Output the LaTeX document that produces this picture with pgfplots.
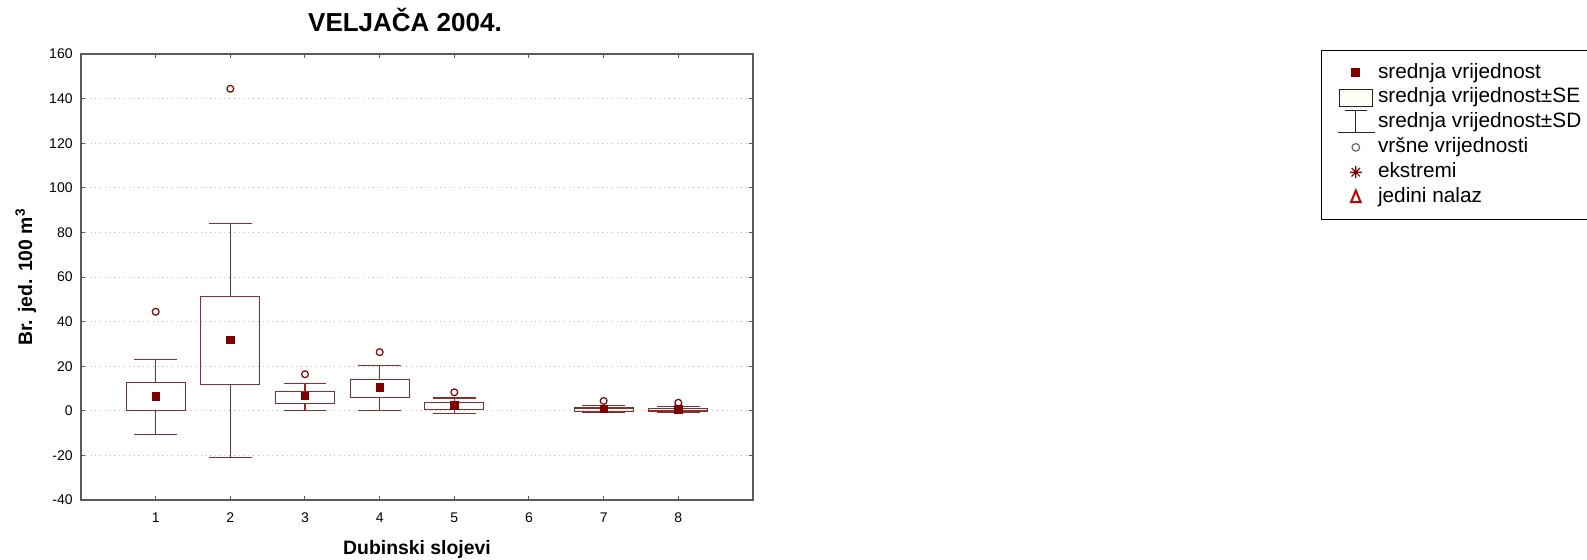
\documentclass[border=0pt]{standalone}
\usepackage{fontspec}
\setmainfont{Liberation Sans}
\usepackage{pgfplots}
\pgfplotsset{compat=1.18}
\usepgfplotslibrary{statistics}
\definecolor{meanred}{RGB}{128,0,0}
\definecolor{boxred}{RGB}{140,45,45}
\definecolor{framegray}{RGB}{90,90,90}
\definecolor{gridgray}{RGB}{190,190,190}
\begin{document}
\begin{tikzpicture}
\begin{axis}[
  at={(0,0)}, anchor=south west,
  scale only axis, width=336bp, height=223bp,
  xmin=0, xmax=9, ymin=-40, ymax=160,
  xtick={1,2,3,4,5,6,7,8},
  ytick={-40,-20,0,20,40,60,80,100,120,140,160},
  tick align=inside, major tick length=2bp,
  tick style={framegray, line width=0.5bp},
  axis line style={framegray, line width=0.8bp},
  ymajorgrids, grid style={gridgray, dotted, line width=0.5bp},
  /pgf/number format/assume math mode=true,
  tick label style={font=\fontsize{7bp}{8bp}\selectfont},
  yticklabel style={anchor=east, inner sep=0pt, xshift=-4bp},
  xticklabel style={anchor=north, inner sep=0pt, yshift=-6bp},
  title={VELJAČA 2004.},
  title style={font=\fontsize{13bp}{15bp}\selectfont\bfseries, at={(0.5,1)}, anchor=base, yshift=5.2bp, xshift=-6bp},
  xlabel={Dubinski slojevi},
  xlabel style={font=\fontsize{9.7bp}{11bp}\selectfont\bfseries, at={(0.5,0)}, anchor=base, yshift=-27bp},
  ylabel={Br. jed. 100 m\textsuperscript{3}},
  ylabel style={font=\fontsize{9.7bp}{11bp}\selectfont\bfseries, at={(-0.0729,0.5)}, anchor=base},
  boxplot/draw direction=y,
  boxplot/draw/median/.code={},
  legend cell align=left,
  legend style={at={(1.845,1.009)}, anchor=north west, draw=black, line width=0.5bp,
    font=\fontsize{10.4bp}{12.2bp}\selectfont,
    nodes={text height=7.5bp, text depth=2.2bp, inner sep=1.35bp},
    inner xsep=8bp, inner ysep=5bp},
]
\addplot[boxred, line width=0.6bp, mark=o, mark options={draw=meanred, fill=white}, mark size=1.7bp, forget plot,
  boxplot prepared={draw position=1, lower whisker=-10.6, lower quartile=0, median=6.4, upper quartile=12.6, upper whisker=23.0, box extend=0.79, whisker extend=0.57}]
  table[row sep=\\, y index=0] {44.4\\};
\addplot[boxred, line width=0.6bp, mark=o, mark options={draw=meanred, fill=white}, mark size=1.7bp, forget plot,
  boxplot prepared={draw position=2, lower whisker=-20.9, lower quartile=11.8, median=31.7, upper quartile=51.4, upper whisker=84.0, box extend=0.79, whisker extend=0.57}]
  table[row sep=\\, y index=0] {144.4\\};
\addplot[boxred, line width=0.6bp, mark=o, mark options={draw=meanred, fill=white}, mark size=1.7bp, forget plot,
  boxplot prepared={draw position=3, lower whisker=0, lower quartile=3.4, median=6.6, upper quartile=8.5, upper whisker=12.1, box extend=0.79, whisker extend=0.57}]
  table[row sep=\\, y index=0] {16.4\\};
\addplot[boxred, line width=0.6bp, mark=o, mark options={draw=meanred, fill=white}, mark size=1.7bp, forget plot,
  boxplot prepared={draw position=4, lower whisker=0, lower quartile=6.1, median=10.5, upper quartile=13.9, upper whisker=20.2, box extend=0.79, whisker extend=0.57}]
  table[row sep=\\, y index=0] {26.3\\};
\addplot[boxred, line width=0.6bp, mark=o, mark options={draw=meanred, fill=white}, mark size=1.7bp, forget plot,
  boxplot prepared={draw position=5, lower whisker=-1.3, lower quartile=0.6, median=2.5, upper quartile=3.6, upper whisker=5.7, box extend=0.79, whisker extend=0.57}]
  table[row sep=\\, y index=0] {8.3\\};
\addplot[boxred, line width=0.6bp, mark=o, mark options={draw=meanred, fill=white}, mark size=1.7bp, forget plot,
  boxplot prepared={draw position=7, lower whisker=-0.9, lower quartile=-0.3, median=0.9, upper quartile=1.3, upper whisker=2.2, box extend=0.79, whisker extend=0.57}]
  table[row sep=\\, y index=0] {4.4\\};
\addplot[boxred, line width=0.6bp, mark=o, mark options={draw=meanred, fill=white}, mark size=1.7bp, forget plot,
  boxplot prepared={draw position=8, lower whisker=-0.6, lower quartile=-0.1, median=0.6, upper quartile=1.0, upper whisker=1.8, box extend=0.79, whisker extend=0.57}]
  table[row sep=\\, y index=0] {3.6\\};
% means
\addplot[only marks, mark=square*, mark options={fill=meanred, draw=meanred}, mark size=1.85bp, forget plot]
  coordinates {(1,6.4) (2,31.7) (3,6.6) (4,10.5) (5,2.5) (7,0.9) (8,0.6)};
% legend
\addlegendimage{legend image code/.code={\fill[meanred] (6bp,-2bp) rectangle (10bp,2bp);}}
\addlegendentry{srednja vrijednost}
\addlegendimage{legend image code/.code={\draw[black!85, line width=0.5bp, fill=yellow!4] (0bp,-4.25bp) rectangle (16.5bp,4.25bp);}}
\addlegendentry{srednja vrijednost±SE}
\addlegendimage{legend image code/.code={\draw[black!85, line width=0.5bp] (2.5bp,6bp) -- (13.5bp,6bp) (8bp,6bp) -- (8bp,-5bp) (-1bp,-5bp) -- (17.5bp,-5bp);}}
\addlegendentry{srednja vrijednost±SD}
\addlegendimage{legend image code/.code={\draw[black!60, line width=0.6bp, fill=white] (8bp,0bp) circle (1.9bp);}}
\addlegendentry{vršne vrijednosti}
\addlegendimage{legend image code/.code={\draw[meanred, line width=0.6bp] (5bp,0bp) -- (11bp,0bp) (8bp,-3bp) -- (8bp,3bp) (5.9bp,-2.1bp) -- (10.1bp,2.1bp) (5.9bp,2.1bp) -- (10.1bp,-2.1bp);}}
\addlegendentry{ekstremi}
\addlegendimage{legend image code/.code={\draw[red!75!black, line width=1bp, line join=miter] (5.6bp,-2.6bp) -- (10.4bp,-2.6bp) -- (8bp,3.2bp) -- cycle;}}
\addlegendentry{jedini nalaz}
\end{axis}
\pgfresetboundingbox
\path[use as bounding box] (-40.5bp,-30bp) rectangle (753bp,250bp);
\end{tikzpicture}
\end{document}
